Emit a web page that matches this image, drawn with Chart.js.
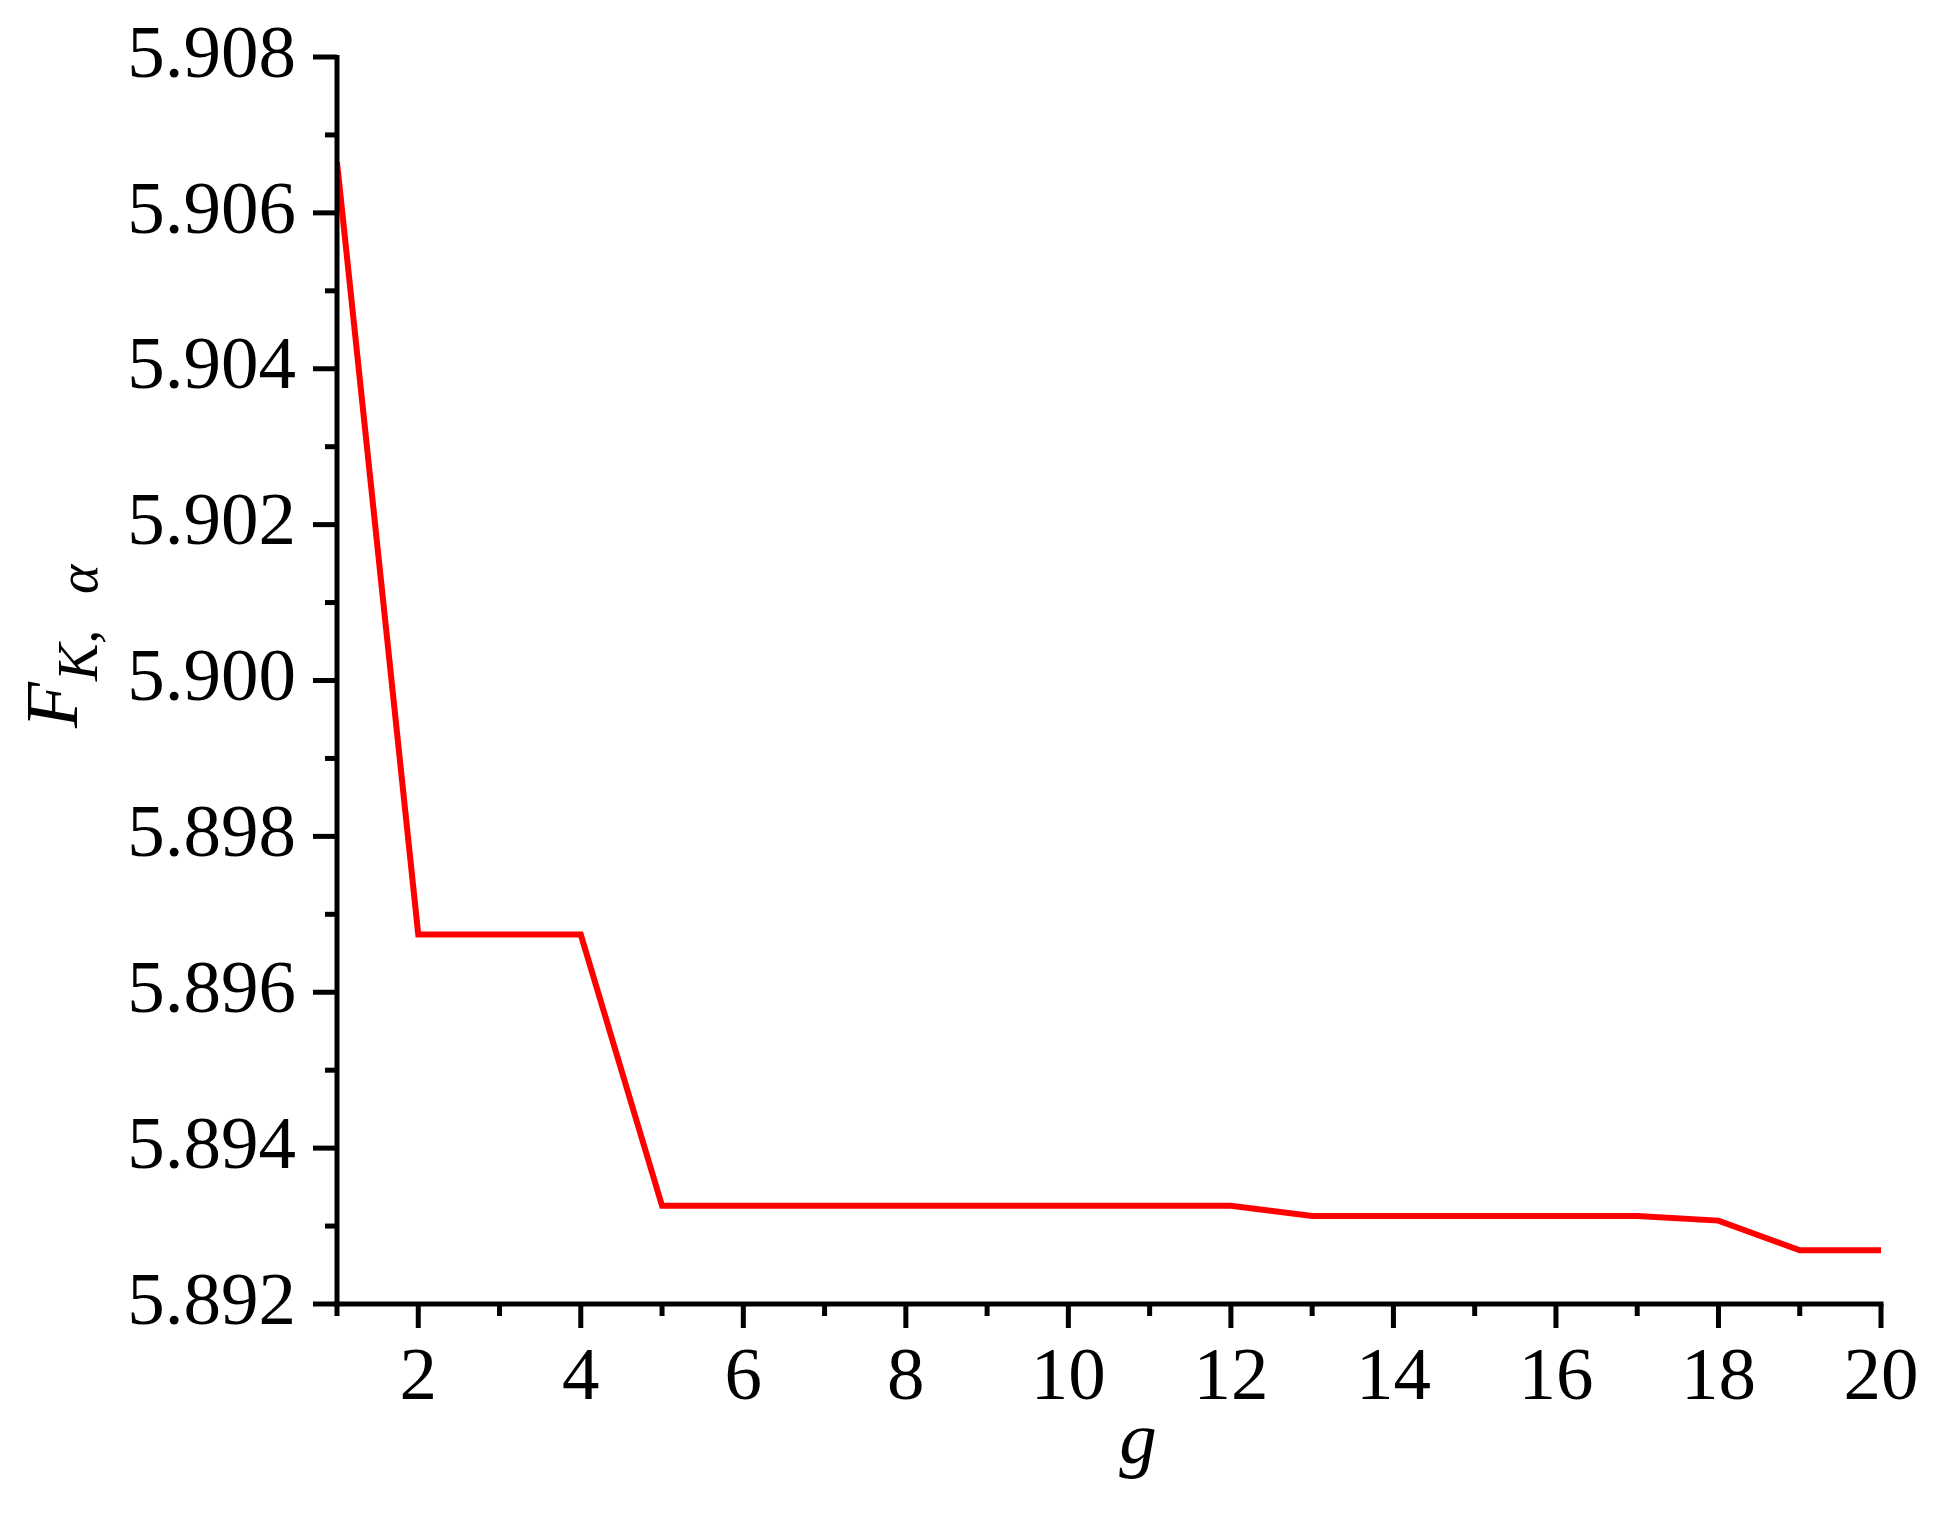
<!DOCTYPE html>
<html>
<head>
<meta charset="utf-8">
<script src="https://cdn.jsdelivr.net/npm/chart.js@4/dist/chart.umd.min.js"></script>
<style>
  html, body { margin: 0; padding: 0; background: #fff; }
  #wrap { width: 1951px; height: 1514px; }
</style>
</head>
<body>
<div id="wrap"><canvas id="c"></canvas></div>
<script>
// data
const gValues = [1, 2, 3, 4, 5, 6, 7, 8, 9, 10, 11, 12, 13, 14, 15, 16, 17, 18, 19, 20];
const fValues = [5.90665, 5.89674, 5.89674, 5.89674, 5.89326, 5.89326, 5.89326, 5.89326, 5.89326, 5.89326,
                 5.89326, 5.89326, 5.89313, 5.89313, 5.89313, 5.89313, 5.89313, 5.89307, 5.89269, 5.89269];

const xTickLabels = ['2', '4', '6', '8', '10', '12', '14', '16', '18', '20'];
const xMajorTicks = xTickLabels.map(Number);
const xMinorTicks = [1, 3, 5, 7, 9, 11, 13, 15, 17, 19];

const yTickLabels = ['5.892', '5.894', '5.896', '5.898', '5.900', '5.902', '5.904', '5.906', '5.908'];
const yMajorTicks = yTickLabels.map(Number);
const yMinorTicks = [5.893, 5.895, 5.897, 5.899, 5.901, 5.903, 5.905, 5.907];

const SERIF = '"Liberation Serif", "Times New Roman", Times, serif';

const near = (a, b) => Math.abs(a - b) < 1e-9;

// Origin-style axes: thick lines, outward major/minor ticks, italic titles
const axesPlugin = {
    id: 'originAxes',
    afterDraw(chart) {
        const { ctx, chartArea: a, scales: { x, y } } = chart;
        ctx.save();
        ctx.fillStyle = '#000';

        // axis lines
        ctx.fillRect(a.left - 2.5, a.top - 2, 5, a.bottom - a.top + 4.5);
        ctx.fillRect(a.left - 2.5, a.bottom - 2.5, a.right - a.left + 5, 5);

        // x ticks (downwards)
        xMajorTicks.forEach(v => {
            const px = x.getPixelForValue(v);
            ctx.fillRect(px - 2.5, a.bottom, 5, 24);
        });
        xMinorTicks.forEach(v => {
            const px = x.getPixelForValue(v);
            ctx.fillRect(px - 2.5, a.bottom, 5, 12);
        });

        // y ticks (to the left)
        yMajorTicks.forEach(v => {
            const py = y.getPixelForValue(v);
            ctx.fillRect(a.left - 24, py - 2.5, 24, 5);
        });
        yMinorTicks.forEach(v => {
            const py = y.getPixelForValue(v);
            ctx.fillRect(a.left - 12, py - 2.5, 12, 5);
        });

        // x title
        ctx.font = `italic 75px ${SERIF}`;
        ctx.textAlign = 'center';
        ctx.textBaseline = 'alphabetic';
        ctx.fillText('g', 1138, 1463);

        // y title: F with subscript "K, α"
        ctx.translate(77, 728);
        ctx.rotate(-Math.PI / 2);
        ctx.textAlign = 'left';
        ctx.font = `italic 75px ${SERIF}`;
        ctx.fillText('F', 0, 0);
        ctx.font = `italic 56px ${SERIF}`;
        ctx.fillText('K,', 47, 20);
        ctx.fillText('α', 134, 20);

        ctx.restore();
    }
};

function draw() {
    new Chart(document.getElementById('c'), {
        type: 'line',
        data: {
            datasets: [{
                data: gValues.map((g, i) => ({ x: g, y: fValues[i] })),
                borderColor: '#ff0000',
                borderWidth: 6,
                pointRadius: 0,
                tension: 0,
                fill: false
            }]
        },
        options: {
            responsive: true,
            maintainAspectRatio: false,
            animation: false,
            devicePixelRatio: 1,
            layout: { padding: { top: 57, right: 70, left: 0, bottom: 0 } },
            plugins: {
                legend: { display: false },
                tooltip: { enabled: false }
            },
            scales: {
                x: {
                    type: 'linear',
                    min: 1,
                    max: 20,
                    afterBuildTicks: s => { s.ticks = gValues.map(v => ({ value: v })); },
                    afterFit: s => { s.height = 210; s.paddingLeft = 0; s.paddingRight = 0; },
                    grid: { display: false, drawTicks: false },
                    border: { display: false },
                    ticks: {
                        autoSkip: false,
                        maxRotation: 0,
                        padding: 30,
                        color: '#000',
                        font: { family: SERIF, size: 75 },
                        callback: v => {
                            const i = xMajorTicks.findIndex(t => near(t, v));
                            return i >= 0 ? xTickLabels[i] : '';
                        }
                    }
                },
                y: {
                    type: 'linear',
                    min: 5.892,
                    max: 5.908,
                    afterBuildTicks: s => {
                        s.ticks = [...yMajorTicks, ...yMinorTicks].sort((p, q) => p - q).map(v => ({ value: v }));
                    },
                    afterFit: s => { s.width = 337; s.paddingTop = 0; s.paddingBottom = 0; },
                    grid: { display: false, drawTicks: false },
                    border: { display: false },
                    ticks: {
                        autoSkip: false,
                        padding: 41,
                        color: '#000',
                        font: { family: SERIF, size: 75 },
                        callback: v => {
                            const i = yMajorTicks.findIndex(t => near(t, v));
                            return i >= 0 ? yTickLabels[i] : '';
                        }
                    }
                }
            }
        },
        plugins: [axesPlugin]
    });
}

Promise.all([
    document.fonts.load('75px "Liberation Serif"'),
    document.fonts.load('italic 75px "Liberation Serif"')
]).catch(() => {}).then(draw);
</script>
</body>
</html>
